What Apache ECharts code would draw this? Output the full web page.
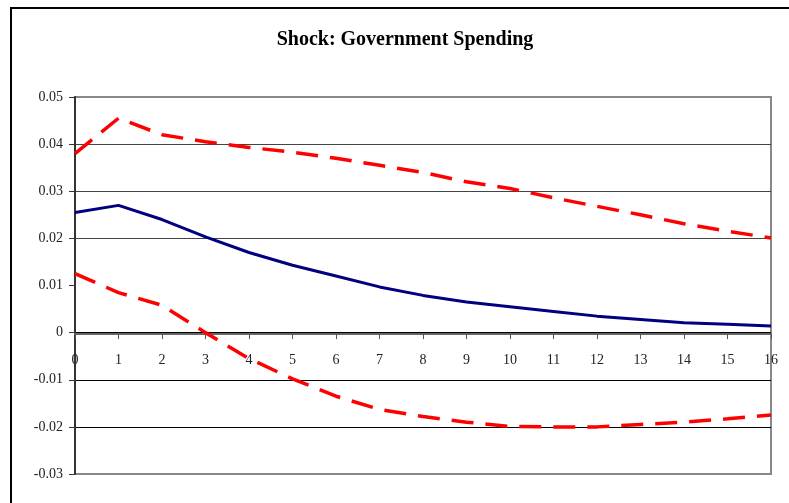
<!DOCTYPE html>
<html>
<head>
<meta charset="utf-8">
<script src="https://cdn.jsdelivr.net/npm/echarts@6/dist/echarts.min.js"></script>
<style>
  html, body { margin: 0; padding: 0; background: #fff; }
  #chart { width: 789px; height: 503px; }
</style>
</head>
<body>
<div id="chart"></div>
<script>
// impulse response horizons and values
var periods = [0, 1, 2, 3, 4, 5, 6, 7, 8, 9, 10, 11, 12, 13, 14, 15, 16];
var response = [0.0255, 0.027, 0.024, 0.0203, 0.017, 0.0143, 0.012, 0.0097, 0.0079, 0.0065, 0.0055, 0.0045, 0.0035, 0.0028, 0.0021, 0.0018, 0.0014];
var upperBand = [0.038, 0.0455, 0.042, 0.0405, 0.0393, 0.0383, 0.037, 0.0355, 0.034, 0.032, 0.0306, 0.0286, 0.0268, 0.025, 0.0231, 0.0215, 0.0201];
var lowerBand = [0.0125, 0.0085, 0.0058, 0.0, -0.0055, -0.0098, -0.0135, -0.0163, -0.0178, -0.019, -0.0199, -0.02, -0.02, -0.0195, -0.019, -0.0183, -0.0175];
var yMin = -0.03, yMax = 0.05;

function pairs(vals) {
  return periods.map(function (p, i) { return [p, vals[i]]; });
}

var serif = '"Liberation Serif", "DejaVu Serif", serif';
var chart = echarts.init(document.getElementById('chart'));

var option = {
  animation: false,
  backgroundColor: '#fff',
  title: {
    text: 'Shock: Government Spending',
    left: 400,
    top: 25,
    textAlign: 'center',
    textStyle: { fontFamily: serif, fontSize: 20, fontWeight: 'bold', color: '#000' }
  },
  graphic: [{
    type: 'rect',
    shape: { x: 11, y: 8, width: 800, height: 520 },
    style: { fill: 'none', stroke: '#000', lineWidth: 2 },
    silent: true
  }],
  grid: {
    left: 75, right: 18, top: 97, bottom: 29,
    show: true, borderColor: '#888', borderWidth: 2, backgroundColor: 'transparent'
  },
  xAxis: {
    type: 'value',
    min: 0, max: 16, interval: 1,
    axisLine: { onZero: false, lineStyle: { color: '#666', width: 2 } },
    axisTick: { show: true, inside: false, length: 5, lineStyle: { color: '#555' } },
    axisLabel: { fontFamily: serif, fontSize: 14, color: '#222', margin: 19 },
    splitLine: { show: false }
  },
  yAxis: {
    type: 'value',
    min: yMin, max: yMax, interval: 0.01,
    axisLine: { show: true, onZero: false, lineStyle: { color: '#333', width: 2 } },
    axisTick: { show: true, length: 6, lineStyle: { color: '#333' } },
    axisLabel: {
      fontFamily: serif, fontSize: 14, color: '#222', margin: 12,
      formatter: function (v) { return v === 0 ? '0' : parseFloat(v.toFixed(2)).toString(); }
    },
    splitLine: {
      show: true,
      lineStyle: { color: ['#888', '#000', '#000', '#000', 'transparent', '#444', '#444', '#444', '#888'], width: 1 }
    }
  },
  series: [
    {
      name: 'upper', type: 'line', data: pairs(upperBand), symbol: 'none',
      lineStyle: { color: '#ff0000', width: 3.5, type: [22, 12] }
    },
    {
      name: 'lower', type: 'line', data: pairs(lowerBand), symbol: 'none',
      lineStyle: { color: '#ff0000', width: 3.5, type: [22, 12] }
    },
    {
      name: 'response', type: 'line', data: pairs(response), symbol: 'none',
      lineStyle: { color: '#000080', width: 3 }
    }
  ]
};

chart.setOption(option);

// move the horizon axis (with its labels) up to the zero line
var zeroY = chart.convertToPixel({ yAxisIndex: 0 }, 0);
var bottomY = chart.convertToPixel({ yAxisIndex: 0 }, yMin);
chart.setOption({ xAxis: { offset: zeroY - bottomY } });
</script>
</body>
</html>
